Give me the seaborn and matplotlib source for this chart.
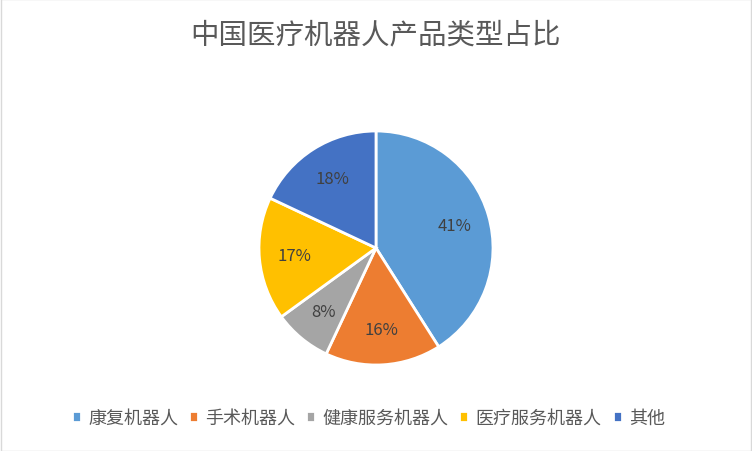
import matplotlib
matplotlib.use("Agg")
import matplotlib.pyplot as plt
import seaborn as sns

sns.set_theme(style="white")
plt.rcParams["font.family"] = ["Noto Sans CJK SC", "DejaVu Sans"]

title = "中国医疗机器人产品类型占比"
categories = ["康复机器人", "手术机器人", "健康服务机器人", "医疗服务机器人", "其他"]
values = [41, 16, 8, 17, 18]
colors = ["#5B9BD5", "#ED7D31", "#A5A5A5", "#FFC000", "#4472C4"]

fig = plt.figure(figsize=(7.52, 4.52), dpi=100)
fig.patch.set_facecolor("white")
fig.patches.append(plt.Rectangle((0.001, 0.001), 0.998, 0.998, transform=fig.transFigure,
                                 fill=False, edgecolor="#D9D9D9", linewidth=1))
ax = fig.add_axes([(376 - 117) / 752, 1 - (249 + 117) / 452, 234 / 752, 234 / 452])
wedges, texts, autotexts = ax.pie(values, colors=colors, startangle=90, counterclock=False,
                                  autopct="%d%%", pctdistance=0.7,
                                  wedgeprops=dict(edgecolor="white", linewidth=2),
                                  textprops=dict(color="#404040", fontsize=12))
ax.set_xlim(-1, 1)
ax.set_ylim(-1, 1)
ax.set_aspect("equal")
fig.text(0.5, 1 - 35 / 452, title, ha="center", va="center", fontsize=20.5, color="#595959")
fig.legend(wedges, categories, loc="center", bbox_to_anchor=(0.49, 1 - 419 / 452), ncol=5,
           frameon=False, fontsize=13, handlelength=0.5, handleheight=0.5,
           handletextpad=0.4, columnspacing=0.6, labelcolor="#595959")
fig.savefig("out.png", dpi=100, facecolor="white")
